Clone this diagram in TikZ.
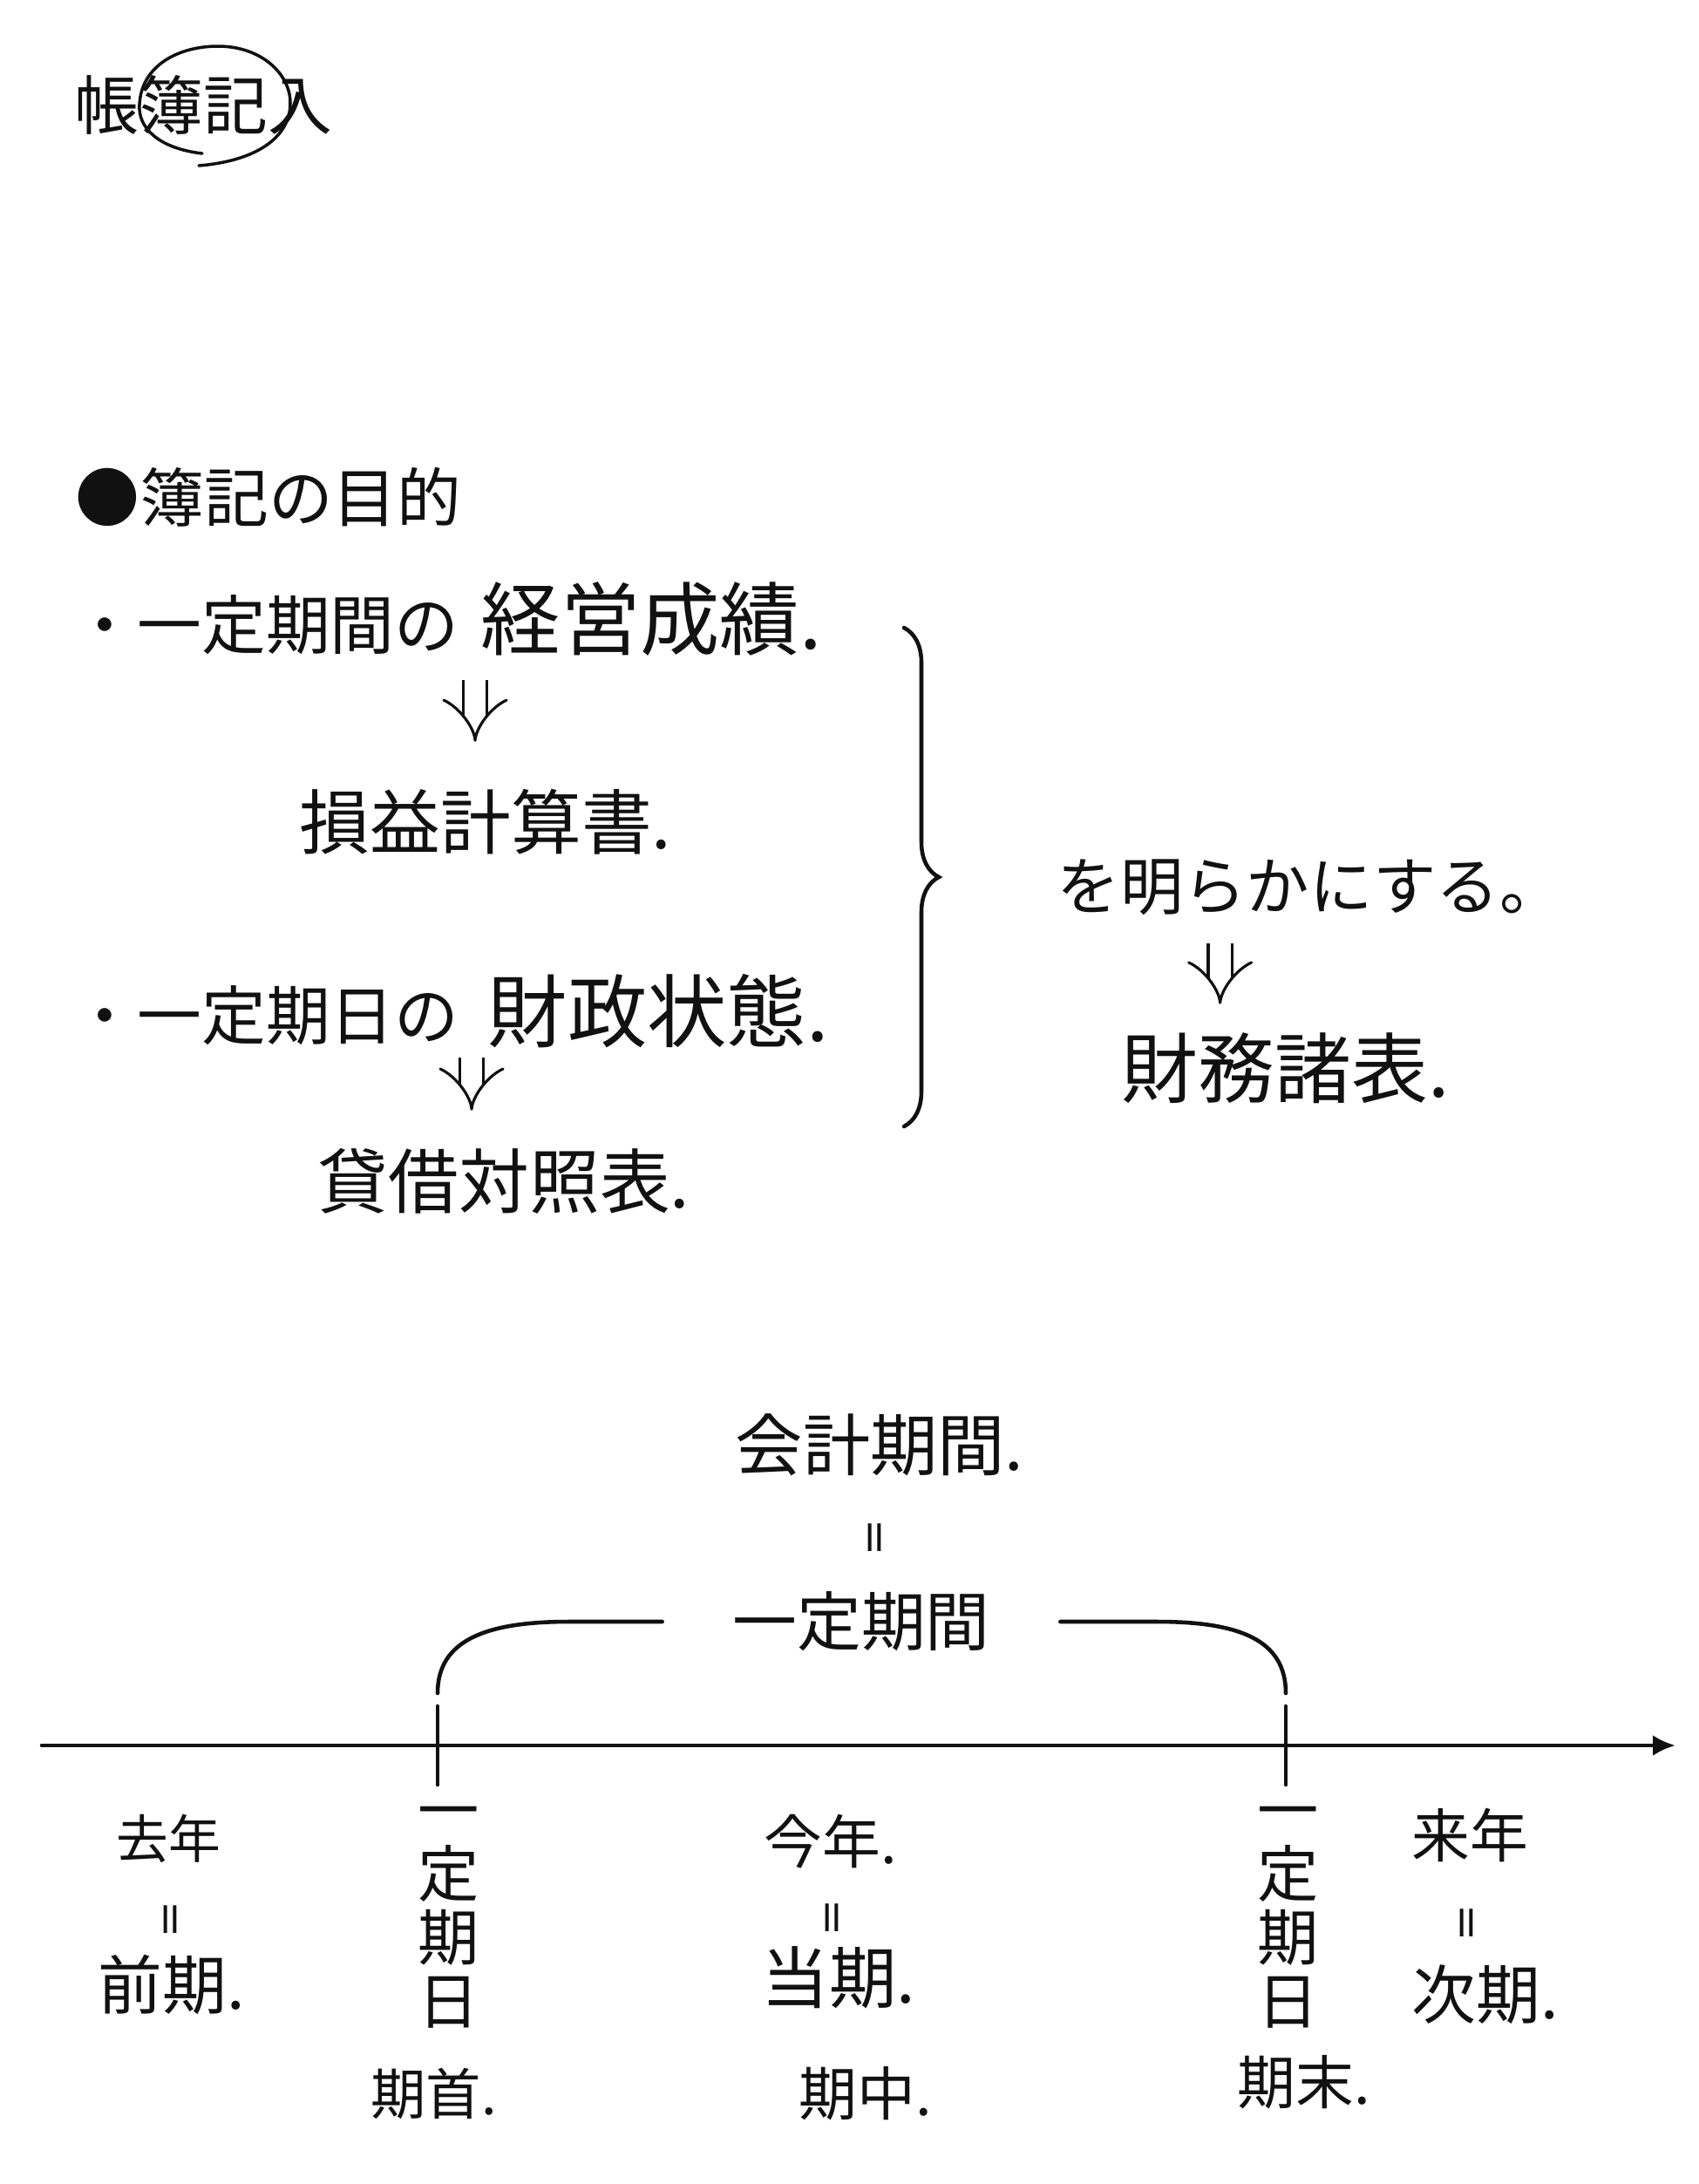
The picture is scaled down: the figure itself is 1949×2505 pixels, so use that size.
\documentclass[tikz,border=0pt]{standalone}
\usepackage{fontspec}
\setmainfont{Noto Sans CJK JP}
\newfontfamily\markfont[FakeBold=2]{Noto Sans CJK JP}
\usepackage{xcolor}
\usepackage{tikz}
\usetikzlibrary{arrows.meta, calc, decorations.pathreplacing}
\definecolor{inkColor}{HTML}{111111}

\begin{document}
\begin{tikzpicture}[x=0.1mm, y=-0.1mm,
    printText/.style={font=\fontsize{21pt}{24pt}\selectfont, inner sep=0pt, text=inkColor},
    handText/.style={font=\fontsize{24pt}{26pt}\selectfont, inner sep=0pt, anchor=west, text=inkColor},
    handSmall/.style={font=\fontsize{19pt}{21pt}\selectfont, inner sep=0pt, anchor=west, text=inkColor},
    eqMark/.style={font=\markfont\fontsize{11pt}{12pt}\selectfont, inner sep=0pt, text=inkColor},
    dblArrow/.style={draw=inkColor, double, double distance=2.4mm, line width=0.9pt, -{Implies}},
    pen/.style={draw=inkColor, line width=1.3pt, line cap=round}]
    \useasboundingbox (0,0) rectangle (1949,2505);

    \node[printText, anchor=west] (title) at (85,120) {帳簿記入};
    \draw[pen, line width=1pt] (232,176) .. controls (180,170) and (158,145) .. (160,120)
        .. controls (162,75) and (205,53) .. (250,53)
        .. controls (300,53) and (333,85) .. (333,118)
        .. controls (333,160) and (290,185) .. (228,190);

    \node[printText, anchor=west] (purpose) at (86,570) {●簿記の目的};

    \node[printText, anchor=west] (termPeriod) at (83,717) {・一定期間の};
    \node[handText, font=\fontsize{26pt}{28pt}\selectfont] (resultPeriod) at (551,710) {経営成績.};
    \node[handText, font=\fontsize{23pt}{26pt}\selectfont] (incomeStmt) at (343,943) {損益計算書.};
    \node[printText, anchor=west] (termDate) at (83,1165) {・一定期日の};
    \node[handText, font=\fontsize{26pt}{28pt}\selectfont] (resultDate) at (559,1160) {財政状態.};
    \node[handText, font=\fontsize{23pt}{26pt}\selectfont] (balanceSheet) at (364,1355) {貸借対照表.};

    \coordinate (arrowA) at ($(incomeStmt.north)+(-12,0)$);
    \draw[dblArrow, shorten <=2.7mm, shorten >=5.4mm] (arrowA |- resultPeriod.south) -- (arrowA);
    \coordinate (arrowB) at ($(balanceSheet.north)+(-37,0)$);
    \draw[dblArrow, shorten <=1mm, shorten >=4.3mm] (arrowB |- resultDate.south) -- (arrowB);

    \draw[pen, decorate, decoration={brace, amplitude=4mm}] (1037,720) -- (1037,1292);

    \node[printText, anchor=west, font=\fontsize{20.6pt}{22pt}\selectfont] (clarify) at (1212,1018) {を明らかにする。};
    \node[handText, font=\fontsize{25pt}{27pt}\selectfont] (statements) at (1286,1225) {財務諸表.};
    \coordinate (arrowC) at ($(statements.north)+(-75,0)$);
    \draw[dblArrow, shorten <=3.1mm, shorten >=3.2mm] (arrowC |- clarify.south) -- (arrowC);

    \node[handText, font=\fontsize{22pt}{24pt}\selectfont] (fiscal) at (843,1657) {会計期間.};
    \node[eqMark] (eqFiscal) at (1003,1763) {\scalebox{1.8}[0.8]{‖}};
    \node[printText, inner xsep=8mm] (period) at (988,1860) {一定期間};

    \coordinate (axisStart) at (48,2002);
    \coordinate (axisEnd) at (1922,2002);
    \draw[pen, -{Latex[length=2.6mm, width=2.4mm]}] (axisStart) -- (axisEnd);
    \draw[pen] (502,1957) -- (502,2047);
    \draw[pen] (1475,1957) -- (1475,2047);
    \draw[pen] (502,1942) .. controls (502,1880) and (560,1860) .. (653,1860) -- (period.west);
    \draw[pen] (period.east) -- (1327,1860) .. controls (1420,1860) and (1475,1880) .. (1475,1942);

    \node[printText, align=center, font=\fontsize{20pt}{20.8pt}\selectfont] (dateStart) at (515,2199) {一\\定\\期\\日};
    \node[printText, align=center, font=\fontsize{20pt}{20.8pt}\selectfont] (dateEnd) at (1478,2199) {一\\定\\期\\日};

    \node[handSmall, font=\fontsize{17pt}{19pt}\selectfont] (lastYear) at (133,2109) {去年};
    \node[eqMark] (eqLast) at (195,2201) {\scalebox{1.8}[0.8]{‖}};
    \node[handSmall, font=\fontsize{21pt}{23pt}\selectfont] (prevTerm) at (112,2276) {前期.};
    \node[handSmall] (thisYear) at (876,2112) {今年.};
    \node[eqMark] (eqThis) at (954,2199) {\scalebox{1.8}[0.8]{‖}};
    \node[handSmall, font=\fontsize{22pt}{24pt}\selectfont] (currTerm) at (873,2268) {当期.};
    \node[handSmall] (nextYear) at (1619,2105) {来年};
    \node[eqMark] (eqNext) at (1682,2205) {\scalebox{1.8}[0.8]{‖}};
    \node[handSmall, font=\fontsize{21pt}{23pt}\selectfont] (nextTerm) at (1619,2288) {次期.};

    \node[handSmall, font=\fontsize{18pt}{20pt}\selectfont] (termBegin) at (425,2401) {期首.};
    \node[handSmall] (termMid) at (916,2401) {期中.};
    \node[handSmall] (termEnd) at (1419,2388) {期末.};
\end{tikzpicture}
\end{document}
